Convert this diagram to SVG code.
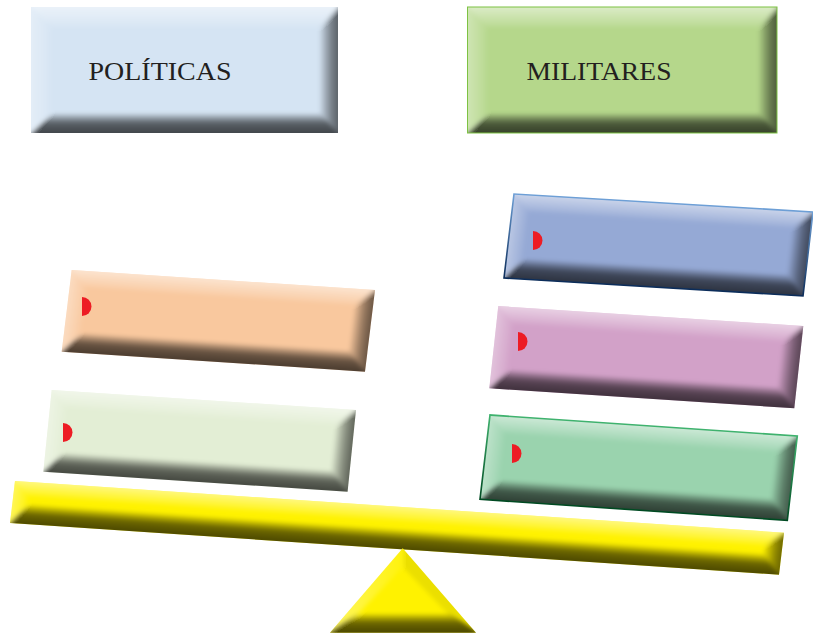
<svg xmlns="http://www.w3.org/2000/svg" width="813" height="634" viewBox="0 0 813 634">
<style>
.lbl{font-family:"Liberation Serif","DejaVu Serif",serif;font-size:26px;fill:#231f20}
.bt{fill:url(#gTop)}
.bl{fill:url(#gLeft)}
.bb{fill:url(#gBot)}
.br{fill:url(#gRight)}
.dot{fill:#ed1c24}
.soft{filter:url(#soft)}
</style>
<defs>
<filter id="soft" x="-5%" y="-20%" width="110%" height="140%"><feGaussianBlur stdDeviation="2.2"/></filter>
<clipPath id="clipBox"><rect width="300" height="82"/></clipPath>
<clipPath id="clipBeam"><rect width="770" height="42"/></clipPath>
<clipPath id="clipPol"><rect x="31" y="7" width="307" height="126"/></clipPath>
<clipPath id="clipMil"><rect x="467.5" y="7" width="309.5" height="126"/></clipPath>
<clipPath id="clipTri"><polygon points="402.7,548.3 476,632.7 330,632.7"/></clipPath>
<linearGradient id="gTop" x1="0" y1="0" x2="0" y2="1"><stop offset="0" stop-color="#fff" stop-opacity="0.6"/><stop offset="1" stop-color="#fff" stop-opacity="0.08"/></linearGradient>
<linearGradient id="gLeft" x1="0" y1="0" x2="1" y2="0"><stop offset="0" stop-color="#fff" stop-opacity="0.42"/><stop offset="1" stop-color="#fff" stop-opacity="0.05"/></linearGradient>
<linearGradient id="gBot" x1="0" y1="0" x2="0" y2="1"><stop offset="0" stop-color="#000" stop-opacity="0.1"/><stop offset="0.4" stop-color="#000" stop-opacity="0.58"/><stop offset="1" stop-color="#000" stop-opacity="0.74"/></linearGradient>
<linearGradient id="gRight" x1="0" y1="0" x2="1" y2="0"><stop offset="0" stop-color="#000" stop-opacity="0.05"/><stop offset="0.5" stop-color="#000" stop-opacity="0.42"/><stop offset="1" stop-color="#000" stop-opacity="0.64"/></linearGradient>
<linearGradient id="strBlue" x1="0" y1="0" x2="0" y2="1"><stop offset="0" stop-color="#6d9fd6"/><stop offset="1" stop-color="#0c2d5a"/></linearGradient>
<linearGradient id="strGreen" x1="0" y1="0" x2="0" y2="1"><stop offset="0" stop-color="#3fb26e"/><stop offset="1" stop-color="#004a22"/></linearGradient>
<g id="bev">
<polygon class="bt" points="-4,-4 304,-4 282,16 16,16"/>
<polygon class="bl" points="-4,-4 16,16 16,63 -4,86"/>
<polygon class="bb" points="-4,86 16,63 282,63 304,86"/>
<polygon class="br" points="304,-4 304,86 282,63 282,16"/>
</g>
</defs>

<g id="politicas">
<rect x="31" y="7" width="307" height="126" fill="#d5e4f3"/>
<g clip-path="url(#clipPol)"><g class="soft">
<polygon class="bt" points="27,3 342,3 320,27 51,27"/>
<polygon class="bl" points="27,3 51,27 51,114 27,137"/>
<polygon class="bb" points="27,137 51,114 320,114 342,137"/>
<polygon class="br" points="342,3 342,137 320,114 320,27"/>
</g></g>
<text class="lbl" x="88.5" y="80" textLength="143" lengthAdjust="spacingAndGlyphs">POLÍTICAS</text>
</g>

<g id="militares">
<rect x="467.5" y="7" width="309.5" height="126" fill="#b5d78b"/>
<g clip-path="url(#clipMil)"><g class="soft">
<polygon class="bt" points="463,3 781,3 759,27 487,27"/>
<polygon class="bl" points="463,3 487,27 487,114 463,137"/>
<polygon class="bb" points="463,137 487,114 759,114 781,137"/>
<polygon class="br" points="781,3 781,137 759,114 759,27"/>
</g></g>
<rect x="467.5" y="7" width="309.5" height="126" fill="none" stroke="#7dc243" stroke-width="1"/>
<text class="lbl" x="526.5" y="80" textLength="145" lengthAdjust="spacingAndGlyphs">MILITARES</text>
</g>

<g id="box-orange">
<g transform="matrix(1.011 0.0667 -0.122 0.996 71.7 270)">
<rect width="300" height="82" fill="#f9c89e"/>
<g clip-path="url(#clipBox)"><use href="#bev" class="soft"/></g>
</g>
<path class="dot" d="M82,297 A9.5,9.5 0 0 1 82,316 Z"/>
</g>

<g id="box-lightgreen">
<g transform="matrix(1.0143 0.0667 -0.1024 0.996 51.7 390)">
<rect width="300" height="82" fill="#e3eed5"/>
<g clip-path="url(#clipBox)"><use href="#bev" class="soft"/></g>
</g>
<path class="dot" d="M63,423 A9.5,9.5 0 0 1 63,442 Z"/>
</g>

<g id="box-blue">
<g transform="matrix(0.9967 0.06 -0.122 1.024 514 194)">
<rect width="300" height="82" fill="#95a9d5"/>
<g clip-path="url(#clipBox)"><use href="#bev" class="soft"/></g>
<rect width="300" height="82" fill="none" stroke="url(#strBlue)" stroke-width="1.6"/>
</g>
<path class="dot" d="M533,231 A9.5,9.5 0 0 1 533,250 Z"/>
</g>

<g id="box-purple">
<g transform="matrix(1.0167 0.0667 -0.1098 1.004 498.3 306)">
<rect width="300" height="82" fill="#d2a1c8"/>
<g clip-path="url(#clipBox)"><use href="#bev" class="soft"/></g>
</g>
<path class="dot" d="M518,332 A9.5,9.5 0 0 1 518,351 Z"/>
</g>

<g id="box-darkgreen">
<g transform="matrix(1.0243 0.07 -0.122 1.028 490 415)">
<rect width="300" height="82" fill="#9ad3ae"/>
<g clip-path="url(#clipBox)"><use href="#bev" class="soft"/></g>
<rect width="300" height="82" fill="none" stroke="url(#strGreen)" stroke-width="1.6"/>
</g>
<path class="dot" d="M512,444 A9.5,9.5 0 0 1 512,463 Z"/>
</g>

<g id="beam">
<g transform="matrix(0.9987 0.0671 -0.119 1 15 481)">
<rect width="770" height="42" fill="#fff200"/>
<g clip-path="url(#clipBeam)"><g class="soft">
<polygon class="bt" points="-4,-4 774,-4 752,14 15,14"/>
<polygon class="bl" points="-4,-4 15,14 15,23 -4,46"/>
<polygon class="bb" points="-4,46 15,23 752,23 774,46"/>
<polygon class="br" points="774,-4 774,46 752,23 752,14"/>
</g></g>
</g>
</g>

<g id="fulcrum">
<polygon points="402.7,548.3 476,632.7 330,632.7" fill="#fff200"/>
<g clip-path="url(#clipTri)"><g class="soft">
<polygon class="bl" points="402.7,540 402.7,567 356,616 322,636"/>
<polygon points="402.7,540 484,636 450,616 402.7,567" fill="#000" fill-opacity="0.08"/>
<polygon class="bb" points="322,636 356,614 450,614 484,636"/>
</g></g>
</g>
</svg>
